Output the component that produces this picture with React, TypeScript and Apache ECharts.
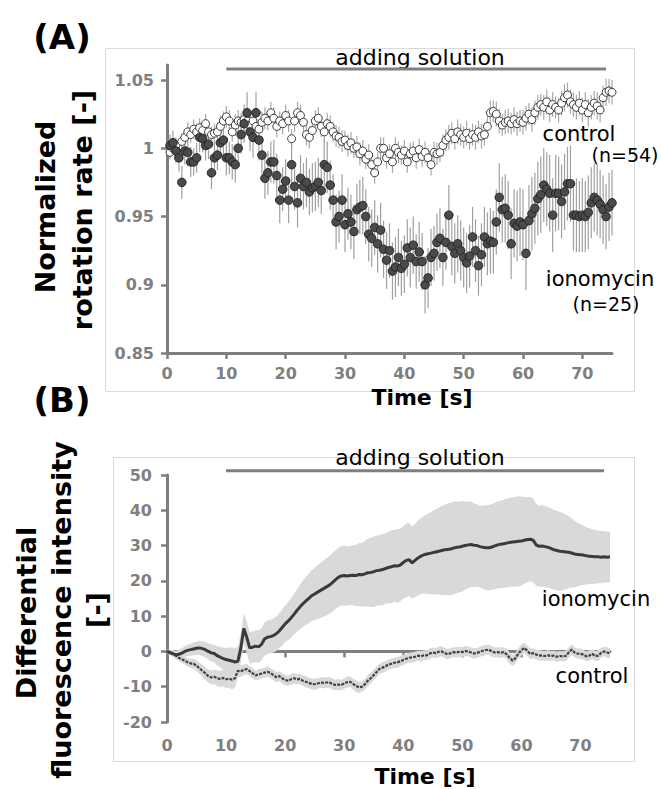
import React, { useEffect, useRef } from 'react';
import * as echarts from 'echarts';

// ---------- Panel A: normalized rotation rate (t = 0.5 ... 75 s, step 0.5 s) ----------
const timesA: number[] = Array.from({ length: 150 }, (_, i) => (i + 1) * 0.5);

const controlA = [
  0.997, 1.000, 1.002, 0.996, 1.005, 1.008, 1.012, 1.010, 1.014, 1.012,
  1.015, 1.013, 1.018, 1.012, 1.010, 1.011, 1.012, 1.016, 1.020, 1.023,
  1.020, 1.012, 1.017, 1.020, 1.019, 1.021, 1.020, 1.017, 1.020, 1.016,
  1.014, 1.019, 1.022, 1.020, 1.026, 1.022, 1.016, 1.020, 1.018, 1.024,
  1.020, 1.007, 1.020, 1.026, 1.024, 1.019, 1.010, 1.008, 1.013, 1.020,
  1.022, 1.016, 1.012, 1.018, 1.016, 1.012, 1.009, 1.008, 1.005, 1.006,
  1.002, 1.004, 1.000, 1.001, 0.996, 0.998, 0.992, 0.995, 0.988, 0.982,
  0.990, 1.000, 1.000, 0.993, 0.996, 0.990, 1.000, 0.997, 0.995, 0.998,
  0.990, 0.996, 0.998, 0.993, 0.999, 0.994, 0.997, 0.993, 0.988, 0.997,
  0.996, 0.997, 1.002, 1.006, 1.008, 1.011, 1.007, 1.012, 1.010, 1.008,
  1.011, 1.007, 1.010, 1.008, 1.012, 1.009, 1.010, 1.016, 1.026, 1.027,
  1.025, 1.020, 1.017, 1.019, 1.020, 1.018, 1.021, 1.018, 1.020, 1.019,
  1.022, 1.025, 1.021, 1.026, 1.030, 1.032, 1.030, 1.034, 1.028, 1.032,
  1.030, 1.028, 1.033, 1.037, 1.039, 1.034, 1.032, 1.030, 1.033, 1.028,
  1.032, 1.026, 1.030, 1.033, 1.031, 1.028, 1.037, 1.041, 1.042, 1.041,
];

const controlErrA = [
  0.005, 0.005, 0.006, 0.006, 0.006, 0.006, 0.007, 0.006, 0.007, 0.006,
  0.007, 0.006, 0.007, 0.007, 0.006, 0.007, 0.007, 0.008, 0.007, 0.008,
  0.008, 0.007, 0.008, 0.008, 0.007, 0.008, 0.008, 0.007, 0.008, 0.008,
  0.007, 0.008, 0.008, 0.007, 0.008, 0.008, 0.008, 0.007, 0.008, 0.008,
  0.008, 0.007, 0.008, 0.008, 0.008, 0.007, 0.008, 0.008, 0.007, 0.008,
  0.008, 0.008, 0.007, 0.008, 0.008, 0.007, 0.008, 0.008, 0.008, 0.007,
  0.008, 0.008, 0.007, 0.008, 0.008, 0.008, 0.007, 0.008, 0.008, 0.008,
  0.007, 0.008, 0.008, 0.008, 0.007, 0.008, 0.008, 0.008, 0.007, 0.008,
  0.008, 0.008, 0.007, 0.008, 0.008, 0.008, 0.008, 0.007, 0.008, 0.008,
  0.008, 0.007, 0.008, 0.008, 0.009, 0.008, 0.008, 0.009, 0.008, 0.008,
  0.009, 0.008, 0.008, 0.009, 0.008, 0.009, 0.008, 0.009, 0.009, 0.008,
  0.009, 0.009, 0.008, 0.009, 0.009, 0.008, 0.009, 0.009, 0.008, 0.009,
  0.009, 0.008, 0.009, 0.009, 0.009, 0.008, 0.009, 0.009, 0.009, 0.009,
  0.008, 0.009, 0.009, 0.010, 0.009, 0.009, 0.009, 0.009, 0.009, 0.009,
  0.009, 0.010, 0.009, 0.009, 0.010, 0.009, 0.009, 0.010, 0.009, 0.009,
];

const ionomycinA = [
  1.002, 1.004, 0.998, 0.993, 0.975, 0.998, 0.997, 0.990, 0.990, 0.993,
  1.008, 1.007, 1.002, 1.003, 0.982, 0.993, 0.995, 1.004, 1.006, 0.993,
  0.993, 0.990, 0.988, 1.000, 1.010, 1.018, 1.026, 1.012, 1.008, 1.026,
  1.006, 0.995, 0.978, 0.982, 0.990, 0.990, 0.980, 0.962, 0.970, 0.976,
  0.962, 0.988, 0.972, 0.960, 0.978, 0.972, 0.975, 0.968, 0.971, 0.972,
  0.975, 0.969, 0.988, 0.986, 0.973, 0.962, 0.946, 0.950, 0.962, 0.944,
  0.952, 0.946, 0.939, 0.955, 0.957, 0.958, 0.950, 0.937, 0.934, 0.942,
  0.930, 0.940, 0.926, 0.918, 0.925, 0.910, 0.913, 0.920, 0.912, 0.915,
  0.927, 0.920, 0.929, 0.917, 0.924, 0.917, 0.900, 0.905, 0.920, 0.923,
  0.931, 0.934, 0.920, 0.931, 0.951, 0.928, 0.923, 0.930, 0.925, 0.920,
  0.916, 0.921, 0.935, 0.925, 0.914, 0.922, 0.935, 0.930, 0.932, 0.931,
  0.946, 0.964, 0.955, 0.956, 0.951, 0.930, 0.945, 0.943, 0.946, 0.944,
  0.923, 0.947, 0.952, 0.956, 0.963, 0.966, 0.973, 0.970, 0.967, 0.951,
  0.967, 0.967, 0.961, 0.968, 0.974, 0.974, 0.951, 0.951, 0.950, 0.951,
  0.950, 0.953, 0.960, 0.964, 0.962, 0.959, 0.955, 0.950, 0.957, 0.960,
];

const ionomycinErrA = [
  0.008, 0.009, 0.009, 0.010, 0.012, 0.010, 0.010, 0.011, 0.010, 0.011,
  0.011, 0.010, 0.011, 0.011, 0.012, 0.012, 0.011, 0.012, 0.012, 0.013,
  0.012, 0.013, 0.013, 0.013, 0.014, 0.014, 0.015, 0.014, 0.015, 0.015,
  0.015, 0.014, 0.015, 0.016, 0.015, 0.016, 0.016, 0.017, 0.016, 0.016,
  0.017, 0.016, 0.017, 0.018, 0.017, 0.017, 0.018, 0.017, 0.018, 0.018,
  0.018, 0.017, 0.018, 0.019, 0.018, 0.019, 0.020, 0.019, 0.019, 0.020,
  0.019, 0.020, 0.020, 0.019, 0.020, 0.021, 0.020, 0.020, 0.021, 0.020,
  0.021, 0.020, 0.021, 0.021, 0.020, 0.021, 0.022, 0.021, 0.020, 0.021,
  0.021, 0.022, 0.021, 0.020, 0.022, 0.021, 0.021, 0.022, 0.021, 0.020,
  0.021, 0.022, 0.021, 0.020, 0.022, 0.021, 0.022, 0.021, 0.022, 0.022,
  0.022, 0.023, 0.022, 0.023, 0.022, 0.023, 0.022, 0.023, 0.024, 0.023,
  0.024, 0.025, 0.024, 0.025, 0.025, 0.026, 0.025, 0.026, 0.025, 0.026,
  0.027, 0.026, 0.027, 0.026, 0.027, 0.028, 0.027, 0.027, 0.028, 0.027,
  0.028, 0.027, 0.027, 0.028, 0.027, 0.028, 0.026, 0.027, 0.026, 0.027,
  0.026, 0.027, 0.026, 0.025, 0.026, 0.025, 0.025, 0.024, 0.025, 0.024,
];

// ---------- Panel B: differential fluorescence intensity (t = 0 ... 75 s, step 0.5 s) ----------
const timesB: number[] = Array.from({ length: 151 }, (_, i) => i * 0.5);

const ionomycinB = [
  0, -0.3, -0.6, -1, -0.8, -0.5, 0, 0.3, 0.5, 0.7,
  0.9, 1, 0.8, 0.5, 0, -0.4, -0.6, -1.2, -1.6, -2,
  -2.3, -2.5, -2.7, -3, -2.8, 1, 6.5, 4, 1, 1.2,
  1.5, 1.3, 2, 3.5, 4, 4.2, 4.5, 5, 5.8, 6.8,
  7.8, 8.6, 9.5, 10.5, 11.6, 12.6, 13.5, 14.3, 15, 15.8,
  16.3, 16.8, 17.3, 17.8, 18.3, 18.8, 19.5, 20.3, 21, 21.4,
  21.5, 21.4, 21.5, 21.6, 21.5, 21.8, 21.7, 22, 22.3, 22.4,
  22.6, 22.9, 23, 23.2, 23.5, 23.8, 24, 24.3, 24.2, 24.5,
  25.2, 25.8, 26, 25.1, 25.8, 26.5, 27, 27.4, 27.6, 27.8,
  28, 28.2, 28.4, 28.6, 28.8, 28.9, 29, 29.3, 29.5, 29.6,
  29.8, 30, 30.2, 30.3, 30.1, 30, 29.7, 29.5, 29.4, 29.4,
  29.6, 29.9, 30.2, 30.4, 30.5, 30.7, 30.9, 31, 31.1, 31.2,
  31.3, 31.5, 31.7, 31.8, 31.5, 30.2, 29.8, 29.9, 29.7, 29.5,
  29.2, 28.8, 28.6, 28.4, 28.3, 28.2, 28.1, 27.9, 27.6, 27.5,
  27.4, 27.3, 27.1, 27, 26.9, 26.8, 26.8, 26.7, 26.8, 26.7,
  26.8,
];

const ionomycinSdB = [
  0.5, 0.8, 1, 1.2, 1.3, 1.4, 1.5, 1.6, 1.7, 1.8,
  1.9, 2, 2.1, 2.2, 2.3, 2.4, 2.5, 2.7, 2.9, 3.1,
  3.3, 3.6, 3.8, 4, 4.2, 4.3, 4.3, 4.4, 4.4, 4.5,
  4.5, 4.6, 4.6, 4.7, 4.7, 4.8, 4.8, 4.9, 5, 5.1,
  5.2, 5.4, 5.6, 5.8, 6, 6.3, 6.6, 6.8, 7, 7.2,
  7.4, 7.6, 7.8, 8, 8.1, 8.2, 8.3, 8.3, 8.4, 8.4,
  8.5, 8.4, 8.3, 8.5, 8.7, 8.9, 9, 9.3, 9.6, 9.8,
  10, 9.9, 10, 10.1, 10, 10.2, 10.3, 10.2, 10.4, 10.3,
  10.2, 10.5, 10.3, 10.2, 10.4, 10.6, 10.8, 11, 11.3, 11.6,
  11.8, 12.1, 12.3, 12.6, 12.8, 13, 13.1, 13.2, 13, 12.8,
  12.8, 12.5, 12.3, 12.1, 11.8, 11.7, 11.6, 11.8, 12, 12.1,
  12.2, 12.3, 12.3, 12.4, 12.5, 12.6, 12.6, 12.7, 12.7, 12.8,
  12.6, 12.3, 12.1, 12, 11.8, 11.6, 11.5, 11.6, 11.5, 11.4,
  11.4, 11.3, 11.3, 11.2, 11, 10.6, 10.2, 9.8, 9.4, 9,
  8.7, 8.4, 8.1, 7.9, 7.7, 7.6, 7.5, 7.4, 7.3, 7.2,
  7.1,
];

const controlB = [
  0, -0.4, -0.8, -1.2, -1.8, -2.2, -2.6, -3.1, -3.4, -3.5,
  -4, -4.8, -5.5, -6.2, -7, -7.4, -7.2, -7.6, -7.8, -7.5,
  -7.9, -7.7, -8, -7.6, -5.5, -5.6, -5.2, -5, -5.6, -6.2,
  -6.8, -6.5, -6.3, -6, -5.8, -6.1, -6.7, -7.3, -7, -7.6,
  -8.1, -8.3, -7.9, -7.6, -7.9, -7.8, -8.3, -8.6, -8.9, -9.2,
  -9.3, -9.1, -8.8, -8.9, -8.8, -8.8, -9.2, -9.5, -9.4, -9.5,
  -9.1, -8.7, -8.6, -9.2, -9.8, -10.2, -10, -9.3, -8.3, -7.6,
  -6.7, -5.8, -4.9, -4.6, -4.2, -3.7, -3.5, -3.2, -3.1, -2.8,
  -2.4, -2.1, -1.8, -1.7, -1.5, -1.2, -1.4, -1.1, -1.1, -0.6,
  -0.3, -0.5, -0.1, 0, -0.4, -0.8, -0.5, -0.2, -0.3, -0.1,
  -0.2, 0.1, 0, -0.3, -0.6, -0.4, -0.1, 0.2, 0.4, 0.5,
  0, -0.3, -0.2, -0.4, -0.2, -0.8, -1.8, -2.6, -1.9, -0.6,
  0.4, 1, 0.2, -0.7, -0.5, -0.9, -1.1, -1.2, -1.3, -1.1,
  -1.3, -1.2, -1.5, -1.3, -1.4, -1.3, -0.3, 0.5, -0.3, -0.6,
  -0.7, -0.9, -1.4, -1.2, -0.7, -1.3, -1.2, -0.4, 0, -0.3,
  -0.5,
];

const controlSdB = [
  0.3, 0.5, 0.7, 0.8, 0.9, 1, 1.1, 1.2, 1.3, 1.4,
  1.5, 1.6, 1.7, 1.8, 1.9, 2, 2.1, 2.2, 2.3, 2.4,
  2.5, 2.6, 2.7, 2.6, 1.8, 1.6, 1.5, 1.5, 1.4, 1.5,
  1.4, 1.5, 1.4, 1.4, 1.5, 1.4, 1.5, 1.5, 1.4, 1.5,
  1.5, 1.4, 1.5, 1.5, 1.4, 1.5, 1.5, 1.6, 1.5, 1.5,
  1.6, 1.5, 1.5, 1.6, 1.5, 1.5, 1.6, 1.5, 1.6, 1.5,
  1.5, 1.6, 1.5, 1.5, 1.6, 1.6, 1.5, 1.5, 1.6, 1.5,
  1.5, 1.5, 1.4, 1.5, 1.5, 1.4, 1.5, 1.4, 1.5, 1.4,
  1.5, 1.4, 1.4, 1.5, 1.4, 1.4, 1.5, 1.4, 1.4, 1.5,
  1.4, 1.4, 1.5, 1.4, 1.4, 1.5, 1.4, 1.4, 1.5, 1.4,
  1.4, 1.5, 1.4, 1.4, 1.5, 1.4, 1.4, 1.5, 1.4, 1.4,
  1.5, 1.4, 1.4, 1.5, 1.4, 1.5, 1.6, 1.6, 1.5, 1.5,
  1.6, 1.5, 1.4, 1.5, 1.4, 1.4, 1.5, 1.4, 1.4, 1.5,
  1.4, 1.4, 1.5, 1.4, 1.4, 1.5, 1.5, 1.5, 1.4, 1.4,
  1.5, 1.4, 1.4, 1.5, 1.4, 1.4, 1.5, 1.4, 1.4, 1.5,
  1.4,
];

// ---------- Ticks & annotations ----------
const xTicks = [0, 10, 20, 30, 40, 50, 60, 70];
const yTicksA = [0.85, 0.9, 0.95, 1, 1.05];
const yTicksB = [-20, -10, 0, 10, 20, 30, 40, 50];
const addingSolution = [10, 74]; // start / end time [s]
const addingLevelA = 1.058;
const addingLevelB = 51.2;

const FONT = 'DejaVu Sans';
const GRAY = '#7f7f7f';

function errBarSeries(t: number[], v: number[], e: number[], color: string) {
  return {
    type: 'custom',
    xAxisIndex: 0,
    yAxisIndex: 0,
    silent: true,
    encode: { x: 0, y: [1, 2] },
    data: t.map((tt, i) => [tt, v[i] - e[i], v[i] + e[i]]),
    renderItem: (_p: any, api: any) => {
      const a = api.coord([api.value(0), api.value(1)]);
      const b = api.coord([api.value(0), api.value(2)]);
      return {
        type: 'line',
        shape: { x1: a[0], y1: a[1], x2: b[0], y2: b[1] },
        style: { stroke: color, lineWidth: 1.2 },
      };
    },
  };
}

// mean ± SD band drawn as one polygon through the axis scales
function bandSeries(t: number[], m: number[], sd: number[], color: string) {
  return {
    type: 'custom',
    xAxisIndex: 1,
    yAxisIndex: 1,
    silent: true,
    clip: true,
    encode: { x: 0, y: 1 },
    data: [[t[0], m[0]]],
    renderItem: (_p: any, api: any) => {
      const upper = t.map((tt, i) => api.coord([tt, m[i] + sd[i]]));
      const lower = t.map((tt, i) => api.coord([tt, m[i] - sd[i]])).reverse();
      return {
        type: 'polygon',
        shape: { points: upper.concat(lower) },
        style: { fill: color, stroke: 'none' },
      };
    },
  };
}

function xAxisCfg(grid: number, margin: number) {
  return {
    gridIndex: grid,
    type: 'value',
    min: 0,
    max: 75,
    axisLine: { show: true, lineStyle: { color: GRAY, width: 3 } },
    axisTick: { show: true, customValues: xTicks, length: 6, lineStyle: { color: GRAY, width: 2.5 } },
    axisLabel: { customValues: xTicks, color: GRAY, fontFamily: FONT, fontWeight: 'bold', fontSize: 16, margin },
    splitLine: { show: false },
  };
}

function yAxisCfg(grid: number, min: number, max: number, ticks: number[], margin: number) {
  return {
    gridIndex: grid,
    type: 'value',
    min,
    max,
    axisLine: { show: true, lineStyle: { color: GRAY, width: 3 } },
    axisTick: { show: true, customValues: ticks, length: 6, lineStyle: { color: GRAY, width: 2.5 } },
    axisLabel: {
      customValues: ticks,
      color: GRAY,
      fontFamily: FONT,
      fontWeight: 'bold',
      fontSize: 16,
      margin,
      formatter: (v: number) => String(parseFloat(v.toFixed(4))),
    },
    splitLine: { show: false },
  };
}

function txt(text: string, x: number, y: number, size: number, bold: boolean, rotate = 0) {
  return {
    type: 'text',
    x,
    y,
    rotation: rotate,
    silent: true,
    style: {
      text,
      fontFamily: FONT,
      fontSize: size,
      fontWeight: bold ? 'bold' : 'normal',
      fill: '#000',
      align: 'center',
      verticalAlign: 'middle',
    },
  };
}

export default function App() {
  const ref = useRef<HTMLDivElement>(null);
  useEffect(() => {
    const chart = echarts.init(ref.current!, null, { renderer: 'svg' });
    const R = Math.PI / 2;
    const option: any = {
      animation: false,
      backgroundColor: '#fff',
      grid: [
        { left: 167, top: 65, width: 445, height: 288 },
        { left: 167, top: 475, width: 443, height: 247 },
      ],
      xAxis: [xAxisCfg(0, 12), xAxisCfg(1, 15)],
      yAxis: [yAxisCfg(0, 0.85, 1.061, yTicksA, 13), yAxisCfg(1, -20, 50, yTicksB, 15)],
      graphic: [
        { type: 'rect', silent: true, shape: { x: 105.5, y: 48.5, width: 529, height: 343 }, style: { fill: 'none', stroke: '#d9d9d9', lineWidth: 1 } },
        { type: 'rect', silent: true, shape: { x: 113.5, y: 457.5, width: 521, height: 304 }, style: { fill: 'none', stroke: '#d9d9d9', lineWidth: 1 } },
        txt('(A)', 62, 37, 34, true),
        txt('(B)', 62, 400, 34, true),
        txt('adding solution', 420, 57, 22, false),
        txt('adding solution', 420, 457, 22, false),
        txt('Normalized', 45, 207, 27, true, R),
        txt('rotation rate [-]', 82, 210, 27, true, R),
        txt('Differential', 26, 613, 27, true, R),
        txt('fluorescence intensity', 61, 610, 27, true, R),
        txt('[-]', 96, 610, 27, true, R),
        txt('Time [s]', 422, 397, 22, true),
        txt('Time [s]', 425, 776, 22, true),
        txt('control', 579, 134, 21, false),
        txt('(n=54)', 625, 155, 19, false),
        txt('ionomycin', 600, 279, 21, false),
        txt('(n=25)', 606, 304, 19, false),
        txt('ionomycin', 596, 599, 21, false),
        txt('control', 592, 676, 21, false),
      ],
      series: [
        errBarSeries(timesA, controlA, controlErrA, '#a8a8a8'),
        errBarSeries(timesA, ionomycinA, ionomycinErrA, '#a0a0a0'),
        {
          type: 'scatter',
          xAxisIndex: 0,
          yAxisIndex: 0,
          symbolSize: 8,
          itemStyle: { color: '#ffffff', borderColor: '#3a3a3a', borderWidth: 1, opacity: 1 },
          data: timesA.map((t, i) => [t, controlA[i]]),
        },
        {
          type: 'scatter',
          xAxisIndex: 0,
          yAxisIndex: 0,
          symbolSize: 8.5,
          itemStyle: { color: '#4a4a4a', borderColor: '#222222', borderWidth: 1, opacity: 1 },
          data: timesA.map((t, i) => [t, ionomycinA[i]]),
        },
        {
          type: 'line',
          xAxisIndex: 0,
          yAxisIndex: 0,
          symbol: 'none',
          silent: true,
          clip: false,
          lineStyle: { color: GRAY, width: 3 },
          data: addingSolution.map((t) => [t, addingLevelA]),
        },
        bandSeries(timesB, ionomycinB, ionomycinSdB, '#d9d9d9'),
        bandSeries(timesB, controlB, controlSdB, '#d9d9d9'),
        {
          type: 'line',
          xAxisIndex: 1,
          yAxisIndex: 1,
          symbol: 'none',
          silent: true,
          lineStyle: { color: '#404040', width: 2.2, type: [3, 1.2] },
          data: timesB.map((t, i) => [t, controlB[i]]),
        },
        {
          type: 'line',
          xAxisIndex: 1,
          yAxisIndex: 1,
          symbol: 'none',
          silent: true,
          lineStyle: { color: '#3a3a3a', width: 3 },
          data: timesB.map((t, i) => [t, ionomycinB[i]]),
        },
        {
          type: 'line',
          xAxisIndex: 1,
          yAxisIndex: 1,
          symbol: 'none',
          silent: true,
          clip: false,
          lineStyle: { color: GRAY, width: 3 },
          data: addingSolution.map((t) => [t, addingLevelB]),
        },
      ],
    };
    chart.setOption(option);
    return () => chart.dispose();
  }, []);
  return <div ref={ref} style={{ position: 'absolute', left: 0, top: 0, width: 661, height: 789 }} />;
}
